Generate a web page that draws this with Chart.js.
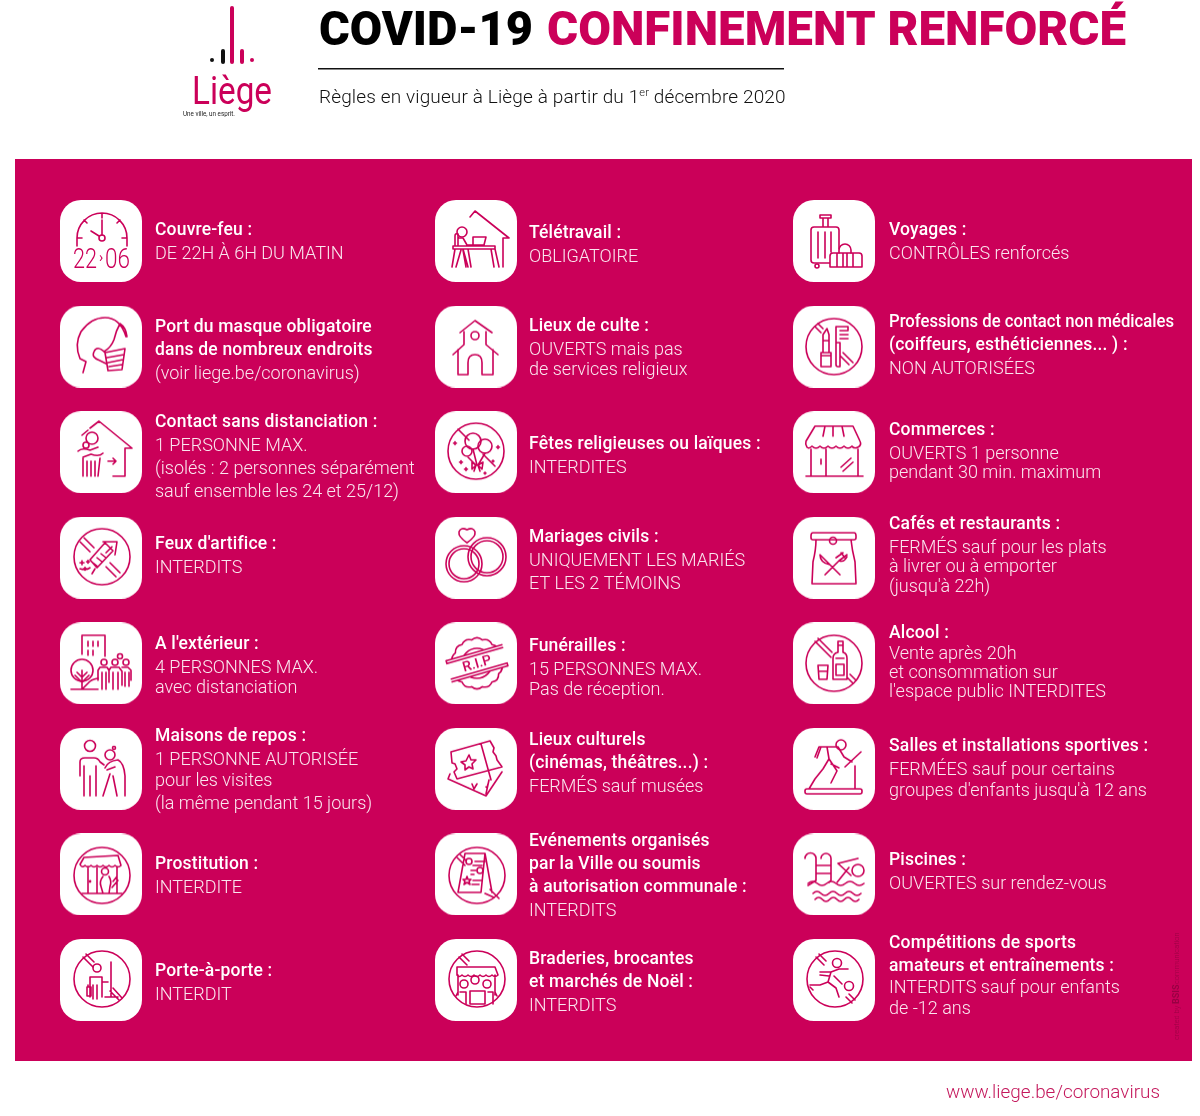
<!DOCTYPE html>
<html>
<head>
<meta charset="utf-8">
<title>COVID-19 Confinement renforcé</title>
<script src="https://cdn.jsdelivr.net/npm/chart.js@4"></script>
<style>
  html, body { margin: 0; padding: 0; background: #fff; }
  canvas { display: block; }
</style>
</head>
<body>
<canvas id="poster" width="1200" height="1116"></canvas>
<script>
const headlineBlack = 'COVID-19';
const headlinePink = 'CONFINEMENT RENFORCÉ';
const subtitleParts = ['Règles en vigueur à Liège à partir du 1', 'er', ' décembre 2020'];
const footerLink = 'www.liege.be/coronavirus';

// one row per tile, "\n" separates the lines
const titlesLeft = ['Couvre-feu :', 'Port du masque obligatoire\ndans de nombreux endroits', 'Contact sans distanciation :', "Feux d'artifice :", "A l'extérieur :", 'Maisons de repos :', 'Prostitution :', 'Porte-à-porte :'];
const detailsLeft = ['DE 22H À 6H DU MATIN', '(voir liege.be/coronavirus)', '1 PERSONNE MAX.\n(isolés : 2 personnes séparément\nsauf ensemble les 24 et 25/12)', 'INTERDITS', '4 PERSONNES MAX.\navec distanciation', '1 PERSONNE AUTORISÉE\npour les visites\n(la même pendant 15 jours)', 'INTERDITE', 'INTERDIT'];
const titlesMiddle = ['Télétravail :', 'Lieux de culte :', 'Fêtes religieuses ou laïques :', 'Mariages civils :', 'Funérailles :', 'Lieux culturels\n(cinémas, théâtres...) :', 'Evénements organisés\npar la Ville ou soumis\nà autorisation communale :', 'Braderies, brocantes\net marchés de Noël :'];
const detailsMiddle = ['OBLIGATOIRE', 'OUVERTS mais pas\nde services religieux', 'INTERDITES', 'UNIQUEMENT LES MARIÉS\nET LES 2 TÉMOINS', '15 PERSONNES MAX.\nPas de réception.', 'FERMÉS sauf musées', 'INTERDITS', 'INTERDITS'];
const titlesRight = ['Voyages :', 'Professions de contact non médicales\n(coiffeurs, esthéticiennes... ) :', 'Commerces :', 'Cafés et restaurants :', 'Alcool :', 'Salles et installations sportives :', 'Piscines :', 'Compétitions de sports\namateurs et entraînements :'];
const detailsRight = ['CONTRÔLES renforcés', 'NON AUTORISÉES', 'OUVERTS 1 personne\npendant 30 min. maximum', 'FERMÉS sauf pour les plats\nà livrer ou à emporter\n(jusqu\'à 22h)', 'Vente après 20h\net consommation sur\nl\'espace public INTERDITES', 'FERMÉES sauf pour certains\ngroupes d\'enfants jusqu\'à 12 ans', 'OUVERTES sur rendez-vous', 'INTERDITS sauf pour enfants\nde -12 ans'];

const PINK = '#cb0059';
const INK = '#111111';
const FONT = 'Roboto, "Noto Sans", sans-serif';

// layout only: where the columns sit on the x scale, where each text line is centred
const columnCentres = [101, 476, 834];
const textOffsets = [54, 53, 55];
const lineCentres = [
  [[231, 254], [328, 351, 374], [423, 446, 469, 492], [545, 568], [645, 668, 688], [737, 760, 781, 804], [865, 888], [972, 995]],
  [[234, 257], [327, 350, 370], [445, 468], [538, 561, 584], [647, 670, 690], [741, 764, 787], [842, 865, 888, 911], [960, 983, 1006]],
  [[231, 254], [323, 346, 369], [431, 454, 473], [525, 548, 567, 587], [634, 654, 673, 692], [747, 770, 791], [861, 884], [944, 967, 988, 1009]]
];
const ROW_STEP = 105.57;
const ROW_ZERO = 241;
const LONGEST_TITLE = 'Professions de contact non médicales'; // squeezed in the original
const LONGEST_TITLE_WIDTH = 285;

// icon helpers, everything in the 82x82 tile space
function circ(x, y, r) {
  return `M${x - r} ${y}a${r} ${r} 0 1 0 ${2 * r} 0a${r} ${r} 0 1 0 ${-2 * r} 0`;
}
function wave(x0, x1, y, n, amp) {
  const w = (x1 - x0) / n;
  let d = `M${x0} ${y}`;
  for (let i = 0; i < n; i++) d += `q${w / 2} ${i % 2 ? amp : -amp} ${w} 0`;
  return d;
}
function seal(cx, cy, r, n) {
  let d = '';
  for (let i = 0; i <= n; i++) {
    const a = i / n * Math.PI * 2;
    const px = cx + r * Math.cos(a), py = cy + r * Math.sin(a);
    if (i === 0) { d = `M${px} ${py}`; continue; }
    const m = (i - 0.5) / n * Math.PI * 2;
    d += `Q${cx + (r + 4) * Math.cos(m)} ${cy + (r + 4) * Math.sin(m)} ${px} ${py}`;
  }
  return d;
}
function sparkle(x, y, s) {
  return `M${x - s} ${y}h${2 * s}M${x} ${y - s}v${2 * s}`;
}

const iconsLeft = [
  // clock
  [`M17 46v-8a25 25 0 0 1 50 0v8M17 38h5M67 38h-5M42 13v5M24 20l3 3M60 20l-3 3M42 20v15M31 31l8 5`, circ(42, 38, 3)],
  // mask
  [`M23 67l3-11l-6-3q-6-14 1-27q10-14 24-14q15 0 21 19M45 47l20-4l-3 21l-14 1zM47 52l17-3M48 57l15-3M49 61l13-2M45 47q-8-8-11-1q-3 6 6 9l6 3M44 46q7-4 10-12q2-9 6-16q6 4 7 13`],
  // contact
  [`M30 17l9-7l33 27h-7v28h-12M22 24l6-5M18 40q4-4 12-1l8-3M43 42q-4 4-12 1l-8 3M23 47v18M40 47l-2 18M27 50v15M31 50v15M35 50v15M48 50h8M53 47l3 3l-3 3`, circ(32, 27, 6), circ(26, 34, 3)],
  // fireworks
  [circ(42, 40, 28), `M20 25l10 10M24 21l10 10M50 46l10 10M46 50l10 10M30 43l15-17l8 8l-16 17zM33 46l5 4M37 41l5 4M41 37l5 4M43 25h14l-2 13M52 30l-6 6M35 52l-3 5M20 52q6 2 10-1`, sparkle(22, 46, 2), sparkle(28, 45, 1.5), sparkle(25, 52, 1.5)],
  // outside
  [`M22 32V13h23v21M28 19v5M33 19v5M38 19v5M28 28v5M33 28v5M22 48v19M11 67h27M22 55l5-5M22 55l-5-5M22 60l7-7M22 60l-7-7M22 67l6-6q3-4 10-5`, circ(22, 48, 11), circ(44, 40, 3), circ(55, 40, 3), circ(66, 40, 3), circ(60, 34, 2.5),
    `M40 45h7l2 3v12M40 45l-2 3v10M42 50v17M46 50v17M51 45h8l3 4v14M51 45l-2 3M53 50v17M58 50v17M62 45h6l3 3v10M65 50v14M69 50v14`],
  // rest home
  [`M20 48V34q0-4 5-4h9q4 0 6 4l4 3M24 38v30M30 48v20M36 38v30M45 40q3-7 13-8q6 3 7 16v20M43 68l7-22M47 42l8-3M57 68l-4-20`, circ(30, 18, 5.5), circ(50, 27, 5), circ(54, 20, 1.5)],
  // prostitution
  [circ(42, 42, 28), `M24 24l34-2l3 10q-3 3-6 0q-3 3-6 0q-3 3-6 0q-3 3-6 0q-3 3-6 0q-3 3-6 0q-3 3-5-1zM28 33v27M57 33v27M22 60h40M37 34v26M43 43q-4 5-2 10l2 7M49 43q3 5 1 10l-1 7M53 48l4-5M52 54l6-7`, circ(45, 38, 3.5), circ(30, 48, 0.6)],
  // door to door
  [circ(42, 40, 28), `M23 18l10 10M26 15l8 8M53 49l9 10M50 52l9 9M30 38h12v5h6M30 38v20M42 43v15M33 46v14M37 46v14M51 23v35M45 58h13M27 48h4v9h-4zM28 48v-2`, circ(37, 29, 4)]
];

const iconsMiddle = [
  // telework
  [`M35 17l5-6l34 27h-6v29M38 37h13l-2 8H38zM18 46h42v3H18zM20 49l-3 18M60 49l4 18M56 49l3 18M33 49l3 18M28 49l5 18M20 45V36q0-3 3-2v12M24 38h4l4 7h6M26 50l-5 17M28 50l3 17`, circ(27, 32, 5)],
  // worship
  [`M25 27l15-12l17 12M29 26v13L18 49M51 26v13l12 10M23 44v25h10V57q0-8 7-8t7 8v12h11V44`, circ(40, 30, 4)],
  // balloons
  [circ(41, 40, 28), `M23 18l11 11M48 43l12 12M38 38l4 16M50 42l-7 12M33 46l8 8M41 54l-4-3l0 7zM43 54l5-3l-1 7zM41 54l-2 6M43 54l2 6`, circ(38, 30, 8), circ(50, 35, 7), circ(32, 40, 5), sparkle(20, 32, 1.5), sparkle(63, 36, 1.5), sparkle(26, 51, 1.5), sparkle(31, 58, 1.5), sparkle(58, 50, 1), sparkle(50, 62, 1)],
  // weddings
  [circ(29, 47, 18), circ(29, 47, 15), circ(52, 40, 19), circ(52, 40, 16), `M32 26q-9-6-8-11q2-5 8-2q6-3 8 2q1 5-8 11z`],
  // funeral, band and letters are added in ripText
  [seal(42, 41, 24, 14), circ(42, 41, 15)],
  // tickets
  [`M16 24l39-11l4 7l-1 4l3 4l1 4l5 7l-45 12l-3-7l3-3l-2-5l-3-1zM46 16l10 36M53 56l-1 4l-1-1M15 46l-2 5l38 17l16-24M51 66l3-14M34 27l2 5h5l-4 4l1 5l-4-2l-4 3v-5l-4-3l5-1zM37 56l2 5l3-5`],
  // events
  [circ(42, 42, 28), `M22 24l8 8M25 21l6 6M30 20h20l-4 39H23zM50 20l7 39M50 60l9 4M55 56l9 9M40 28h10M38 32h9M36 37h5M36 41h3M38 47h9M37 51h7`, circ(34, 28, 3), circ(45, 37, 3), `M32 43l1 3h3l-2 2l1 3l-3-2l-3 2l1-3l-2-2h3z`],
  // markets
  [circ(42, 40, 28), `M24 18l8 8M27 15l7 7M22 28h38l3 8q-3 3-6 0q-3 3-6 0q-3 3-6 0q-3 3-6 0q-3 3-6 0q-3 3-6 0q-3 3-5 0zM23 36v20M60 36v20M35 52h15v13H35zM25 53h6v12M23 53l-2 4M53 53h5v12M60 53l2 4`, circ(29, 45, 4), circ(40, 41, 4), circ(52, 45, 4)]
];

const iconsRight = [
  // travel
  [`M27 15h11v3H27zM30 18v9M35 18v9M21 27h22q3 0 3 3v19M37 63H21q-3 0-3-3V30q0-3 3-3M25 32v26M32 32v26M38 32v20M46 53h20q3 0 3 3v11H37V56q0-3 3-3zM44 53v14M50 53v14M54 53v14M60 53v14`, circ(24, 66, 2), `M46 53v-3a6 6 0 0 1 12 0v3`],
  // cosmetics
  [circ(41, 41, 28), `M28 47h10v14H28zM30 47V35h6v12M30 35v-6l4-6l2 6v6M28 50h10M43 21h12v4h-8M47 25h8M47 29h8M47 33h8M47 37h-4M43 21v38q0 2 2 2h2v-24M22 21l6 6M25 18l5 5M50 47l10 10M47 50l9 9`],
  // shops
  [`M22 15h38l7 15q2 4-2 6q-4 2-6-1q-4 4-8 0q-4 4-8 0q-4 4-8 0q-4 4-8 0q-4 4-8 0q-3 3-5 1q-2-3-1-6zM32 15l-2 10M40 15v10M49 15l2 10M18 38v27M33 38v27M65 38v27M13 65h57M28 48v5M48 56l10-9M50 60l10-9`],
  // cafes
  [`M20 16h41q2 0 2 3v2q0 2-2 2H20q-2 0-2-2v-2q0-3 2-3zM23 23q0 10-3 22l-1 22h44l-1-22q-3-12-4-22M27 38l20 20M27 38q0 8 10 10M32 58l14-14M46 44l8-6M43 41l7-5M46 44q5 2 8-4M48 36l4 5`, circ(40, 24, 3.5)],
  // alcohol
  [circ(41, 41, 28), `M22 19l16 16M25 16l14 14M57 52l6 6M54 55l6 6M45 19h5v4h-5zM45 23v7q-5 1-5 6v21h14V36q0-5-4-6v-7M43 42h8v11h-8zM25 43h10l-1 14h-8zM26 49h8M43 36h8`],
  // sport
  [`M14 61h53q2 0 2 2v1q0 2-2 2H14q-2 0-2-2v-1q0-2 2-2zM62 61V38M68 24L52 39M22 29l4-10h19l6 10l8 5M34 19l2 12l-6 10l-8 10l-6 10M36 31l8 12l-6 12M38 36l8 4M28 19l-4 11`, circ(48, 17, 5)],
  // pools
  [`M12 25a5.5 5.5 0 0 1 11 0v22l-8 5M28 25a5 5 0 0 1 10 0v22l-2 2M23 32h15M23 40h15M45 30l20-5M45 30l13 12M44 49l12-15`, circ(65, 37, 6), wave(15, 71, 50, 6, 4), wave(20, 68, 60, 6, 4), wave(22, 66, 66, 6, 4)],
  // competition
  [circ(42, 40, 28), `M23 18l8 8M26 15l7 7M56 55l6 6M53 58l6 6M27 33h11l8-3h9M38 33l-3 10l-8 3H17M35 43l8 6l3 9M41 37l8 8M27 36l9 1M17 48l3 3`, circ(44, 24, 4.5), circ(56, 47, 4.5)]
];

function fitted(ctx, text, x, y, width) {
  const w = ctx.measureText(text).width;
  ctx.save();
  ctx.translate(x, y);
  ctx.scale(width / w, 1);
  ctx.fillText(text, 0, 0);
  ctx.restore();
}

function makeTile(parts, extra) {
  const c = document.createElement('canvas');
  c.width = 82; c.height = 82;
  const g = c.getContext('2d');
  g.fillStyle = '#fff';
  g.beginPath();
  g.roundRect(0, 0, 82, 82, 21);
  g.fill();
  g.strokeStyle = PINK;
  g.lineWidth = 1.6;
  g.lineJoin = 'round';
  g.lineCap = 'round';
  parts.forEach(d => g.stroke(new Path2D(d)));
  if (extra) extra(g);
  return c;
}

function clockText(g) {
  g.fillStyle = PINK;
  g.font = '300 28px ' + FONT;
  g.textBaseline = 'alphabetic';
  fitted(g, '22', 13, 68, 24);
  fitted(g, '06', 45, 68, 25);
  g.font = '400 14px ' + FONT;
  g.fillText('›', 39, 62);
}
function ripText(g) {
  g.save();
  g.translate(42, 41);
  g.rotate(-0.28);
  g.fillStyle = '#fff';
  g.fillRect(-29, -11, 58, 22);
  g.beginPath();
  [-11, -8, 8, 11].forEach(y => { g.moveTo(-29, y); g.lineTo(29, y); });
  g.moveTo(-29, -11); g.lineTo(-29, -8);
  g.moveTo(29, 8); g.lineTo(29, 11);
  g.stroke();
  g.fillStyle = PINK;
  g.font = '500 14px ' + FONT;
  g.textAlign = 'center';
  g.textBaseline = 'middle';
  g.fillText('R.I.P', 0, 1);
  g.restore();
}

const tilesByColumn = [
  iconsLeft.map((p, i) => makeTile(p, i === 0 ? clockText : null)),
  iconsMiddle.map((p, i) => makeTile(p, i === 4 ? ripText : null)),
  iconsRight.map(p => makeTile(p))
];
const allTitles = [titlesLeft, titlesMiddle, titlesRight];
const allDetails = [detailsLeft, detailsMiddle, detailsRight];

// page furniture under the tiles: white page, pink panel, header, footer
const backdrop = {
  id: 'backdrop',
  beforeDatasetsDraw(chart) {
    const ctx = chart.ctx;
    ctx.save();
    ctx.fillStyle = PINK;
    ctx.fillRect(15, 159, 1177, 902);

    ctx.textBaseline = 'alphabetic';
    ctx.fillStyle = '#000';
    ctx.font = '900 49px ' + FONT;
    fitted(ctx, headlineBlack, 319, 45, 214);
    ctx.fillStyle = PINK;
    fitted(ctx, headlinePink, 547, 45, 579);

    ctx.fillStyle = '#111';
    ctx.fillRect(318, 68, 466, 1.5);

    ctx.fillStyle = INK;
    ctx.letterSpacing = '0.13px';
    ctx.font = '300 19px ' + FONT;
    ctx.fillText(subtitleParts[0], 319, 103);
    let x = 319 + ctx.measureText(subtitleParts[0]).width;
    ctx.font = '300 11px ' + FONT;
    ctx.fillText(subtitleParts[1], x, 96);
    x += ctx.measureText(subtitleParts[1]).width;
    ctx.font = '300 19px ' + FONT;
    ctx.fillText(subtitleParts[2], x, 103);
    ctx.letterSpacing = '0px';

    // Liège logo
    ctx.lineCap = 'round';
    ctx.lineWidth = 4;
    [[212, 60, 60, '#111'], [223, 51, 62, '#111'], [232, 8, 62, PINK], [242, 51, 62, PINK], [252, 60, 60, PINK]].forEach(b => {
      ctx.strokeStyle = b[3];
      ctx.beginPath();
      ctx.moveTo(b[0], b[1]);
      ctx.lineTo(b[0], b[2] + 0.1);
      ctx.stroke();
    });
    ctx.fillStyle = PINK;
    ctx.font = '400 39px ' + FONT;
    fitted(ctx, 'Liège', 192, 104, 80);
    ctx.fillStyle = '#222';
    ctx.font = '400 8px ' + FONT;
    fitted(ctx, 'Une ville, un esprit.', 183, 116, 52);

    ctx.fillStyle = '#c4185c';
    ctx.font = '300 19px ' + FONT;
    fitted(ctx, footerLink, 946, 1098, 214);

    // small credit running up the right edge of the panel
    ctx.translate(1179, 1040);
    ctx.rotate(-Math.PI / 2);
    ctx.fillStyle = 'rgba(90,0,40,0.45)';
    ctx.font = '300 7.5px ' + FONT;
    ctx.fillText('created by', 0, 0);
    ctx.font = '700 9px ' + FONT;
    ctx.fillText('BSIS', 36, 0);
    ctx.font = '300 7.5px ' + FONT;
    ctx.fillText('communication', 56, 0);
    ctx.restore();
  }
};

// text beside every tile, anchored on the tile element
const tileText = {
  id: 'tileText',
  afterDatasetsDraw(chart) {
    const ctx = chart.ctx;
    ctx.save();
    ctx.textBaseline = 'middle';
    chart.data.datasets.forEach((ds, col) => {
      chart.getDatasetMeta(col).data.forEach((el, row) => {
        const tx = el.x + textOffsets[col];
        const titleLines = allTitles[col][row].split('\n');
        const detailLines = allDetails[col][row].split('\n');
        const ys = lineCentres[col][row];
        ctx.fillStyle = '#fff';
        ctx.font = '500 17.5px ' + FONT;
        titleLines.forEach((t, i) => {
          if (t === LONGEST_TITLE) {
            fitted(ctx, t, tx, ys[i], LONGEST_TITLE_WIDTH);
          } else {
            ctx.letterSpacing = '0.18px';
            ctx.fillText(t, tx, ys[i]);
            ctx.letterSpacing = '0px';
          }
        });
        ctx.fillStyle = 'rgba(255,255,255,0.9)';
        ctx.font = '300 18px ' + FONT;
        detailLines.forEach((t, i) => ctx.fillText(t, tx, ys[titleLines.length + i]));
      });
    });
    ctx.restore();
  }
};

new Chart(document.getElementById('poster'), {
  type: 'scatter',
  data: {
    datasets: tilesByColumn.map((tiles, col) => ({
      label: 'col' + col,
      data: tiles.map((_, row) => ({ x: columnCentres[col], y: row })),
      pointStyle: tiles,
      pointRadius: 41,
      pointHoverRadius: 41,
      clip: false
    }))
  },
  options: {
    responsive: false,
    animation: false,
    layout: { padding: 0, autoPadding: false },
    plugins: { legend: { display: false }, tooltip: { enabled: false }, title: { display: false } },
    scales: {
      x: { type: 'linear', display: false, min: 0, max: 1200 },
      y: { type: 'linear', display: false, reverse: true, min: -ROW_ZERO / ROW_STEP, max: (1116 - ROW_ZERO) / ROW_STEP }
    }
  },
  plugins: [backdrop, tileText]
});
</script>
</body>
</html>
